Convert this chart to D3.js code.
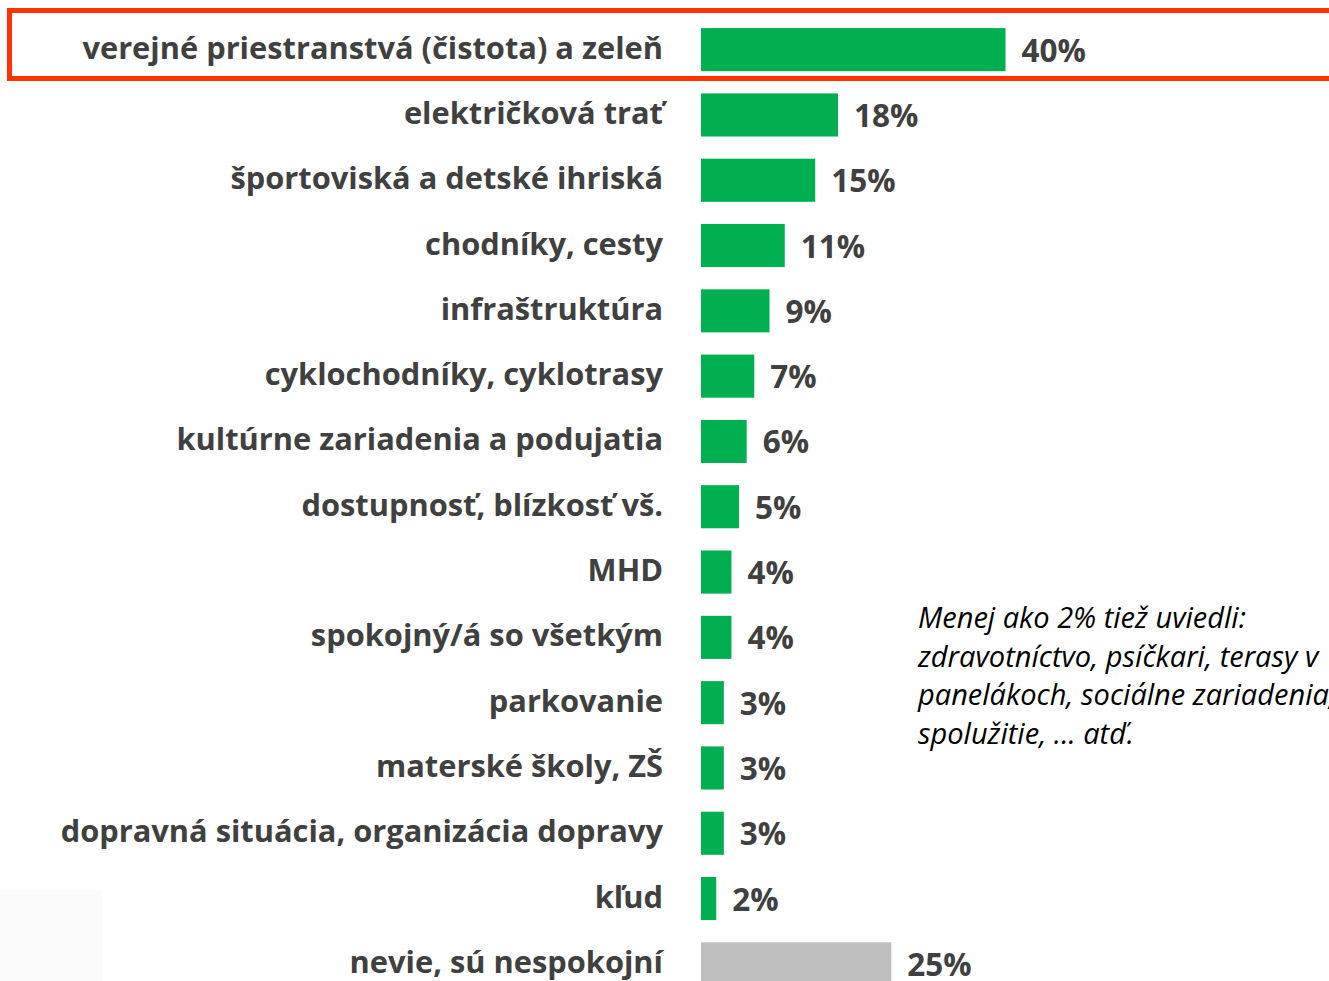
<!DOCTYPE html>
<html>
<head>
<meta charset="utf-8">
<script src="https://cdn.jsdelivr.net/npm/d3@7"></script>
<style>
html,body{margin:0;padding:0;background:#fff;overflow:hidden;}
</style>
</head>
<body>
<div id="chart"></div>
<script>
const categories = [
  "verejné priestranstvá (čistota) a zeleň",
  "električková trať",
  "športoviská a detské ihriská",
  "chodníky, cesty",
  "infraštruktúra",
  "cyklochodníky, cyklotrasy",
  "kultúrne zariadenia a podujatia",
  "dostupnosť, blízkosť vš.",
  "MHD",
  "spokojný/á so všetkým",
  "parkovanie",
  "materské školy, ZŠ",
  "dopravná situácia, organizácia dopravy",
  "kľud",
  "nevie, sú nespokojní"
];
const values = [40, 18, 15, 11, 9, 7, 6, 5, 4, 4, 3, 3, 3, 2, 25];
const valueLabels = ["40%","18%","15%","11%","9%","7%","6%","5%","4%","4%","3%","3%","3%","2%","25%"];
const noteLines = [
  "Menej ako 2% tiež uviedli:",
  "zdravotníctvo, psíčkari, terasy v",
  "panelákoch, sociálne zariadenia,",
  "spolužitie, ... atď."
];

const W = 1329, H = 981;
const svg = d3.select("#chart").append("svg")
  .attr("width", W).attr("height", H)
  .style("display","block");

svg.append("rect").attr("x",0).attr("y",0).attr("width",W).attr("height",H).attr("fill","#fff");
svg.append("rect").attr("x",0).attr("y",890).attr("width",102).attr("height",91).attr("fill","#fbfbfb");

const x = d3.scaleLinear().domain([0, 40]).range([701, 1005.5]);
const y = d3.scaleBand().domain(categories).range([17, 996.5]).paddingInner(0.34).paddingOuter(0.17);

const font = "'Open Sans', Lato, sans-serif";

svg.append("g").selectAll("rect").data(categories).join("rect")
  .attr("x", x(0))
  .attr("y", d => y(d))
  .attr("width", (d,i) => x(values[i]) - x(0))
  .attr("height", y.bandwidth())
  .attr("fill", (d,i) => i === categories.length - 1 ? "#BFBFBF" : "#00B050");

svg.append("g").selectAll("text").data(categories).join("text")
  .attr("x", 663)
  .attr("y", d => y(d) + y.bandwidth()/2 + 9)
  .attr("text-anchor","end")
  .attr("font-family", font)
  .attr("font-weight", 700)
  .attr("font-size", 30.8)
  .attr("fill", "#404040")
  .text(d => d);

svg.append("g").selectAll("text").data(categories).join("text")
  .attr("x", (d,i) => x(values[i]) + 16)
  .attr("y", d => y(d) + y.bandwidth()/2 + 12)
  .attr("font-family", font)
  .attr("font-weight", 700)
  .attr("font-size", 31.5)
  .attr("fill", "#404040")
  .text((d,i) => valueLabels[i]);

svg.append("rect")
  .attr("x", 9.5).attr("y", 10.5)
  .attr("width", W + 20).attr("height", 68)
  .attr("fill","none")
  .attr("stroke","#FF3300")
  .attr("stroke-width",5);

const note = svg.append("text")
  .attr("x", 918).attr("y", 628)
  .attr("font-family", font)
  .attr("font-style","italic")
  .attr("font-size", 29)
  .attr("fill","#000");
note.selectAll("tspan").data(noteLines).join("tspan")
  .attr("x", 918)
  .attr("dy", (d,i) => i === 0 ? 0 : 38.5)
  .text(d => d);
</script>
</body>
</html>
